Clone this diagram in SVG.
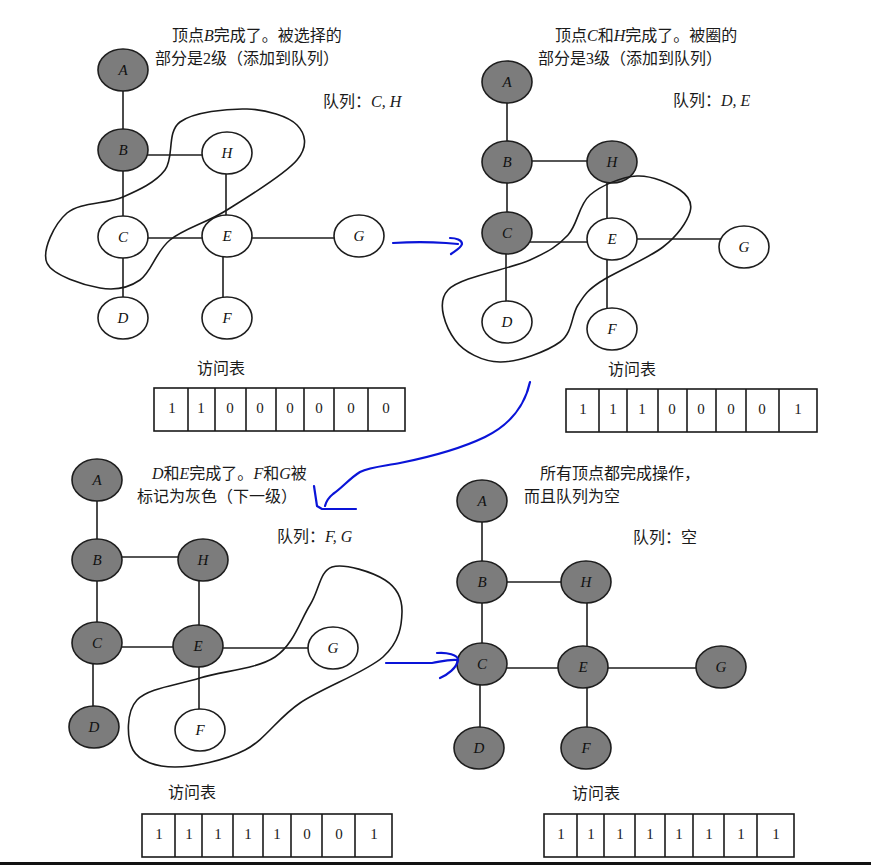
<svg xmlns="http://www.w3.org/2000/svg" width="871" height="865" viewBox="0 0 871 865">
<style>
.n ellipse{stroke:#1e1e1e;stroke-width:1.6}
.g ellipse{fill:#7c7c7c}
.w ellipse{fill:#ffffff}
.n text{font-family:"Liberation Serif",serif;font-style:italic;font-size:15px;text-anchor:middle;fill:#111}
.e line{stroke:#1e1e1e;stroke-width:1.6}
.blob{fill:none;stroke:#1a1a1a;stroke-width:1.6}
.t{font-family:"Liberation Serif","Noto Sans CJK SC",serif;font-size:16px;fill:#1a1a1a}
.i{font-style:italic}
.tb rect,.tb line{fill:none;stroke:#1a1a1a;stroke-width:1.6}
.tb text{font-family:"Liberation Serif",serif;font-size:15px;text-anchor:middle;fill:#1a1a1a}
.blue{fill:none;stroke:#0a14d8;stroke-width:2.2;stroke-linecap:round;stroke-linejoin:round}
</style>
<rect width="871" height="865" fill="#ffffff"/>

<!-- connectors -->
<g id="connectors" class="e">
  <!-- panel 1 -->
  <line x1="123" y1="70" x2="123" y2="150"/>
  <line x1="123" y1="155" x2="227" y2="155"/>
  <line x1="123" y1="150" x2="123" y2="237"/>
  <line x1="226" y1="153" x2="226" y2="236"/>
  <line x1="123" y1="238" x2="227" y2="238"/>
  <line x1="227" y1="238" x2="359" y2="238"/>
  <line x1="123" y1="237" x2="123" y2="318"/>
  <line x1="223" y1="236" x2="223" y2="318"/>
  <!-- panel 2 -->
  <line x1="507" y1="82" x2="507" y2="162"/>
  <line x1="507" y1="161" x2="612" y2="161"/>
  <line x1="507" y1="162" x2="507" y2="233"/>
  <line x1="607" y1="162" x2="607" y2="239"/>
  <line x1="507" y1="242" x2="612" y2="242"/>
  <line x1="612" y1="239" x2="744" y2="239"/>
  <line x1="506" y1="233" x2="506" y2="322"/>
  <line x1="607" y1="239" x2="607" y2="329"/>
  <!-- panel 3 -->
  <line x1="97" y1="480" x2="97" y2="560"/>
  <line x1="97" y1="557" x2="203" y2="557"/>
  <line x1="97" y1="560" x2="97" y2="643"/>
  <line x1="199" y1="560" x2="199" y2="646"/>
  <line x1="97" y1="647" x2="198" y2="647"/>
  <line x1="198" y1="648" x2="333" y2="648"/>
  <line x1="93" y1="643" x2="93" y2="727"/>
  <line x1="199" y1="646" x2="199" y2="730"/>
  <!-- panel 4 -->
  <line x1="482" y1="501" x2="482" y2="582"/>
  <line x1="482" y1="582" x2="586" y2="582"/>
  <line x1="482" y1="582" x2="482" y2="664"/>
  <line x1="587" y1="582" x2="587" y2="667"/>
  <line x1="482" y1="668" x2="583" y2="668"/>
  <line x1="583" y1="668" x2="721" y2="668"/>
  <line x1="480" y1="664" x2="480" y2="748"/>
  <line x1="587" y1="667" x2="587" y2="748"/>
</g>

<!-- panel 1 nodes -->
<g id="p1-A" class="n g"><ellipse cx="123" cy="70" rx="25" ry="21"/><text x="123" y="75">A</text></g>
<g id="p1-B" class="n g"><ellipse cx="123" cy="150" rx="25" ry="21"/><text x="123" y="155">B</text></g>
<g id="p1-H" class="n w"><ellipse cx="227" cy="153" rx="25" ry="21"/><text x="227" y="158">H</text></g>
<g id="p1-C" class="n w"><ellipse cx="123" cy="237" rx="25" ry="21"/><text x="123" y="242">C</text></g>
<g id="p1-E" class="n w"><ellipse cx="227" cy="236" rx="25" ry="21"/><text x="227" y="241">E</text></g>
<g id="p1-G" class="n w"><ellipse cx="359" cy="236" rx="25" ry="21"/><text x="359" y="241">G</text></g>
<g id="p1-D" class="n w"><ellipse cx="123" cy="318" rx="25" ry="21"/><text x="123" y="323">D</text></g>
<g id="p1-F" class="n w"><ellipse cx="227" cy="318" rx="25" ry="21"/><text x="227" y="323">F</text></g>

<!-- panel 2 nodes -->
<g id="p2-A" class="n g"><ellipse cx="507" cy="82" rx="25" ry="21"/><text x="507" y="87">A</text></g>
<g id="p2-B" class="n g"><ellipse cx="507" cy="162" rx="25" ry="21"/><text x="507" y="167">B</text></g>
<g id="p2-H" class="n g"><ellipse cx="612" cy="162" rx="25" ry="21"/><text x="612" y="167">H</text></g>
<g id="p2-C" class="n g"><ellipse cx="507" cy="233" rx="25" ry="21"/><text x="507" y="238">C</text></g>
<g id="p2-E" class="n w"><ellipse cx="612" cy="239" rx="25" ry="21"/><text x="612" y="244">E</text></g>
<g id="p2-G" class="n w"><ellipse cx="744" cy="247" rx="25" ry="21"/><text x="744" y="252">G</text></g>
<g id="p2-D" class="n w"><ellipse cx="507" cy="322" rx="25" ry="21"/><text x="507" y="327">D</text></g>
<g id="p2-F" class="n w"><ellipse cx="612" cy="329" rx="25" ry="21"/><text x="612" y="334">F</text></g>

<!-- panel 3 nodes -->
<g id="p3-A" class="n g"><ellipse cx="97" cy="480" rx="25" ry="21"/><text x="97" y="485">A</text></g>
<g id="p3-B" class="n g"><ellipse cx="97" cy="560" rx="25" ry="21"/><text x="97" y="565">B</text></g>
<g id="p3-H" class="n g"><ellipse cx="203" cy="560" rx="25" ry="21"/><text x="203" y="565">H</text></g>
<g id="p3-C" class="n g"><ellipse cx="97" cy="643" rx="25" ry="21"/><text x="97" y="648">C</text></g>
<g id="p3-E" class="n g"><ellipse cx="198" cy="646" rx="25" ry="21"/><text x="198" y="651">E</text></g>
<g id="p3-G" class="n w"><ellipse cx="333" cy="648" rx="25" ry="21"/><text x="333" y="653">G</text></g>
<g id="p3-D" class="n g"><ellipse cx="94" cy="727" rx="25" ry="21"/><text x="94" y="732">D</text></g>
<g id="p3-F" class="n w"><ellipse cx="200" cy="730" rx="25" ry="21"/><text x="200" y="735">F</text></g>

<!-- panel 4 nodes -->
<g id="p4-A" class="n g"><ellipse cx="482" cy="501" rx="25" ry="21"/><text x="482" y="506">A</text></g>
<g id="p4-B" class="n g"><ellipse cx="482" cy="582" rx="25" ry="21"/><text x="482" y="587">B</text></g>
<g id="p4-H" class="n g"><ellipse cx="586" cy="582" rx="25" ry="21"/><text x="586" y="587">H</text></g>
<g id="p4-C" class="n g"><ellipse cx="482" cy="664" rx="25" ry="21"/><text x="482" y="669">C</text></g>
<g id="p4-E" class="n g"><ellipse cx="583" cy="667" rx="25" ry="21"/><text x="583" y="672">E</text></g>
<g id="p4-G" class="n g"><ellipse cx="721" cy="667" rx="25" ry="21"/><text x="721" y="672">G</text></g>
<g id="p4-D" class="n g"><ellipse cx="479" cy="748" rx="25" ry="21"/><text x="479" y="753">D</text></g>
<g id="p4-F" class="n g"><ellipse cx="586" cy="748" rx="25" ry="21"/><text x="586" y="753">F</text></g>

<!-- enclosing outlines -->
<g id="outlines">
<path class="blob" d="M247,109 C266.5,109.5 288.7,116.5 297,125 C305.3,133.5 308.7,145.8 297,160 C285.3,174.2 248.2,196.7 227,210 C205.8,223.3 184.5,228.3 170,240 C155.5,251.7 151.7,272 140,280 C128.3,288 115.5,290.8 100,288 C84.5,285.2 52.5,275.5 47,263 C41.5,250.5 54.3,224 67,213 C79.7,202 106.7,204.2 123,197 C139.3,189.8 155.5,182.5 165,170 C174.5,157.5 166.3,132.2 180,122 C193.7,111.8 227.5,108.5 247,109 Z"/>
<path class="blob" d="M637,176 C652,175.2 671.2,184 680,190 C688.8,196 692.8,202.5 690,212 C687.2,221.5 678,235.3 663,247 C648,258.7 614.2,272.3 600,282 C585.8,291.7 584.7,295 578,305 C571.3,315 573,332.5 560,342 C547,351.5 517.5,362.3 500,362 C482.5,361.7 463.7,352 455,340 C446.3,328 435.5,303.3 448,290 C460.5,276.7 510,269.2 530,260 C550,250.8 558,245.8 568,235 C578,224.2 578.5,204.8 590,195 C601.5,185.2 622,176.8 637,176 Z"/>
<path class="blob" d="M332,567 C344.5,562.8 373.3,572.5 385,580 C396.7,587.5 402.3,599.2 402,612 C401.7,624.8 400,641.8 383,657 C366,672.2 323,687.5 300,703 C277,718.5 265.8,739.3 245,750 C224.2,760.7 193.7,767 175,767 C156.3,767 139.3,761.2 133,750 C126.7,738.8 125.8,712 137,700 C148.2,688 177,685.2 200,678 C223,670.8 256.5,669.2 275,657 C293.5,644.8 300.5,620 310,605 C319.5,590 319.5,571.2 332,567 Z"/>
</g>

<!-- captions -->
<g id="captions" class="t">
  <text x="172" y="41">顶点<tspan class="i">B</tspan>完成了。被选择的</text>
  <text x="155" y="64">部分是2级（添加到队列）</text>
  <text x="323" y="107">队列：<tspan class="i">C, H</tspan></text>
  <text x="197" y="374">访问表</text>

  <text x="555" y="41">顶点<tspan class="i">C</tspan>和<tspan class="i">H</tspan>完成了。被圈的</text>
  <text x="538" y="64">部分是3级（添加到队列）</text>
  <text x="673" y="106">队列：<tspan class="i">D, E</tspan></text>
  <text x="608" y="375">访问表</text>

  <text x="152" y="479"><tspan class="i">D</tspan>和<tspan class="i">E</tspan>完成了。<tspan class="i">F</tspan>和<tspan class="i">G</tspan>被</text>
  <text x="137" y="502">标记为灰色（下一级）</text>
  <text x="277" y="542">队列：<tspan class="i">F, G</tspan></text>
  <text x="168" y="798">访问表</text>

  <text x="540" y="479">所有顶点都完成操作，</text>
  <text x="524" y="502">而且队列为空</text>
  <text x="633" y="543">队列：空</text>
  <text x="572" y="799">访问表</text>
</g>

<!-- visit tables -->
<g id="table1" class="tb">
  <rect x="154" y="388" width="251" height="43"/>
  <line x1="188" y1="388" x2="188" y2="431"/><line x1="215" y1="388" x2="215" y2="431"/><line x1="246" y1="388" x2="246" y2="431"/><line x1="276" y1="388" x2="276" y2="431"/><line x1="304" y1="388" x2="304" y2="431"/><line x1="334" y1="388" x2="334" y2="431"/><line x1="368" y1="388" x2="368" y2="431"/>
  <text x="172" y="413">1</text><text x="201" y="413">1</text><text x="230" y="413">0</text><text x="260" y="413">0</text><text x="290" y="413">0</text><text x="319" y="413">0</text><text x="351" y="413">0</text><text x="386" y="413">0</text>
</g>
<g id="table2" class="tb">
  <rect x="566" y="389" width="251" height="43"/>
  <line x1="599" y1="389" x2="599" y2="432"/><line x1="627" y1="389" x2="627" y2="432"/><line x1="658" y1="389" x2="658" y2="432"/><line x1="687" y1="389" x2="687" y2="432"/><line x1="716" y1="389" x2="716" y2="432"/><line x1="746" y1="389" x2="746" y2="432"/><line x1="779" y1="389" x2="779" y2="432"/>
  <text x="583" y="414">1</text><text x="613" y="414">1</text><text x="642" y="414">1</text><text x="672" y="414">0</text><text x="701" y="414">0</text><text x="731" y="414">0</text><text x="762" y="414">0</text><text x="798" y="414">1</text>
</g>
<g id="table3" class="tb">
  <rect x="142" y="814" width="250" height="43"/>
  <line x1="175" y1="814" x2="175" y2="857"/><line x1="202" y1="814" x2="202" y2="857"/><line x1="233" y1="814" x2="233" y2="857"/><line x1="263" y1="814" x2="263" y2="857"/><line x1="291" y1="814" x2="291" y2="857"/><line x1="322" y1="814" x2="322" y2="857"/><line x1="355" y1="814" x2="355" y2="857"/>
  <text x="159" y="839">1</text><text x="189" y="839">1</text><text x="218" y="839">1</text><text x="248" y="839">1</text><text x="277" y="839">1</text><text x="307" y="839">0</text><text x="339" y="839">0</text><text x="374" y="839">1</text>
</g>
<g id="table4" class="tb">
  <rect x="544" y="814" width="250" height="43"/>
  <line x1="577" y1="814" x2="577" y2="857"/><line x1="604" y1="814" x2="604" y2="857"/><line x1="635" y1="814" x2="635" y2="857"/><line x1="665" y1="814" x2="665" y2="857"/><line x1="693" y1="814" x2="693" y2="857"/><line x1="724" y1="814" x2="724" y2="857"/><line x1="757" y1="814" x2="757" y2="857"/>
  <text x="561" y="839">1</text><text x="591" y="839">1</text><text x="620" y="839">1</text><text x="650" y="839">1</text><text x="679" y="839">1</text><text x="709" y="839">1</text><text x="741" y="839">1</text><text x="776" y="839">1</text>
</g>

<!-- hand-drawn blue arrows -->
<g id="blue-arrows">
  <path class="blue" d="M393,243 C410,242 430,242 446,243 L458,244"/>
  <path class="blue" d="M450,238 C456,238 462,240 462,244 C461,248 455,251 451,254"/>
  <path class="blue" d="M530,382 C525,405 510,425 485,437 C460,449 430,457 400,463 C385,466 370,467 360,472 C350,478 342,488 333,494 C328,498 326,502 325,506"/>
  <path class="blue" d="M314,486 L317,506 L322,509 L356,509"/>
  <path class="blue" d="M386,663 L432,663 C440,662 447,659 458,660"/>
  <path class="blue" d="M437,653 C447,652 458,655 458,660 C457,668 447,675 440,678"/>
</g>

<rect x="0" y="862" width="871" height="3" fill="#111"/>
</svg>
